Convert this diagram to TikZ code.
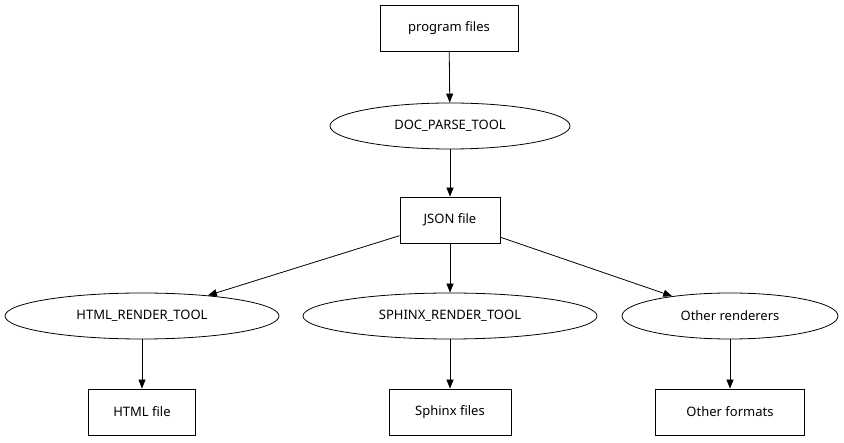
\documentclass[tikz,border=0pt]{standalone}
\usepackage{fontspec}
\setmainfont{Noto Sans}
\usetikzlibrary{positioning,arrows.meta,shapes.geometric}

\begin{document}
\begin{tikzpicture}[
    x=1pt, y=-1pt,
    % Global style settings
    file_style/.style={
        draw, thick, rectangle,
        minimum height=46pt,
        font=\fontsize{13}{15}\selectfont
    },
    tool_style/.style={
        draw, thick, ellipse,
        minimum height=46pt, inner sep=0pt,
        font=\fontsize{13}{15}\selectfont
    },
    arrow_tip/.style={
        thick, -{Triangle[length=9pt, width=7pt]}
    }
]
    \useasboundingbox (0,0) rectangle (844,443);

    % 1. Input and parser
    \node[file_style, minimum width=138pt] (program) at (449,28) {program files};
    \node[tool_style, minimum width=240pt] (parse) at (450,126) {DOC\_PARSE\_TOOL};
    \node[file_style, minimum width=100pt] (json) at (450,220) {JSON file};

    % 2. Renderers
    \node[tool_style, minimum width=274pt] (html_tool) at (142,316) {HTML\_RENDER\_TOOL};
    \node[tool_style, minimum width=294pt] (sphinx_tool) at (450,316) {SPHINX\_RENDER\_TOOL};
    \node[tool_style, minimum width=216pt] (other_tool) at (730,316) {Other renderers};

    % 3. Outputs
    \node[file_style, minimum width=107pt] (html_out) at (142,412) {HTML file};
    \node[file_style, minimum width=122pt] (sphinx_out) at (450,412) {Sphinx files};
    \node[file_style, minimum width=149pt] (other_out) at (730,412) {Other formats};

    % 4. Connectors
    \draw[arrow_tip] (program) -- (parse);
    \draw[arrow_tip] (parse) -- (json);
    \draw[arrow_tip] (json) -- (html_tool);
    \draw[arrow_tip] (json) -- (sphinx_tool);
    \draw[arrow_tip] (json) -- (other_tool);
    \draw[arrow_tip] (html_tool) -- (html_out);
    \draw[arrow_tip] (sphinx_tool) -- (sphinx_out);
    \draw[arrow_tip] (other_tool) -- (other_out);

\end{tikzpicture}
\end{document}
